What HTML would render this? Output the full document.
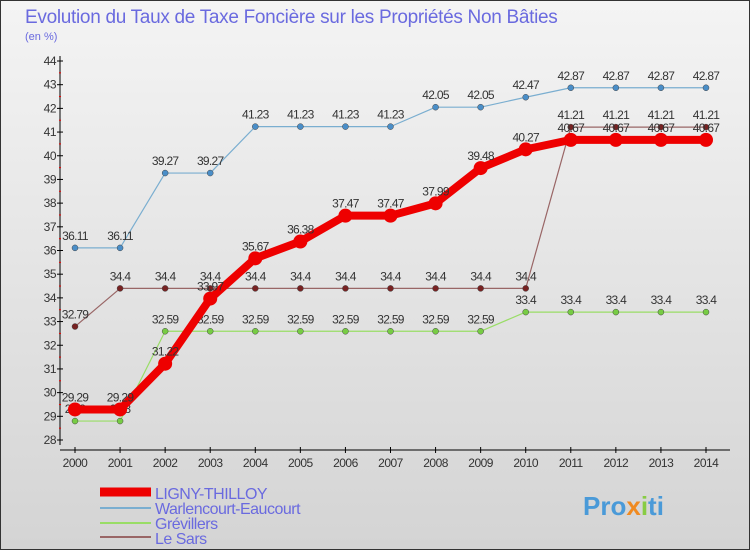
<!DOCTYPE html>
<html><head><meta charset="utf-8"><style>
body{margin:0;width:750px;height:550px;overflow:hidden;font-family:"Liberation Sans",sans-serif}
svg text{font-family:"Liberation Sans",sans-serif}
</style></head><body>
<svg id="c" width="750" height="550" viewBox="0 0 750 550">
<defs><linearGradient id="bg" x1="0" y1="0" x2="0" y2="1"><stop offset="0" stop-color="#f4f4f4"/><stop offset="1" stop-color="#d4d4d4"/></linearGradient></defs>
<rect x="0.5" y="0.5" width="749" height="549" fill="url(#bg)" stroke="#333"/>
<text x="25" y="23" font-size="19" fill="#6a6adf" letter-spacing="-0.3">Evolution du Taux de Taxe Foncière sur les Propriétés Non Bâties</text>
<text x="25" y="40" font-size="11" fill="#6a6adf">(en %)</text>
<g id="axes"></g><g id="series"></g>
<g>
<line x1="100" y1="492" x2="151" y2="492" stroke="#e00" stroke-width="9"/>
<text x="155" y="499" font-size="16" fill="#6a6adf" letter-spacing="-0.5">LIGNY-THILLOY</text>
<line x1="100" y1="508" x2="151" y2="508" stroke="#7aaed0" stroke-width="2"/>
<text x="155" y="514" font-size="16" fill="#6a6adf" letter-spacing="-0.5">Warlencourt-Eaucourt</text>
<line x1="100" y1="523" x2="151" y2="523" stroke="#99dd66" stroke-width="2"/>
<text x="155" y="529" font-size="16" fill="#6a6adf" letter-spacing="-0.5">Grévillers</text>
<line x1="100" y1="537" x2="151" y2="537" stroke="#996666" stroke-width="2"/>
<text x="155" y="544" font-size="16" fill="#6a6adf" letter-spacing="-0.5">Le Sars</text>
</g>
<text x="583" y="515" font-size="26" font-weight="bold" fill="#4a9ad8">Pro<tspan fill="#f08a20">x</tspan><tspan fill="#88cc44">i</tspan>ti</text>
</svg>
<script>
const years=[2000,2001,2002,2003,2004,2005,2006,2007,2008,2009,2010,2011,2012,2013,2014];
const yTicks=[28,29,30,31,32,33,34,35,36,37,38,39,40,41,42,43,44];
const ligny=[29.29,29.29,31.22,33.97,35.67,36.38,37.47,37.47,37.99,39.48,40.27,40.67,40.67,40.67,40.67];
const warlencourt=[36.11,36.11,39.27,39.27,41.23,41.23,41.23,41.23,42.05,42.05,42.47,42.87,42.87,42.87,42.87];
const grevillers=[28.8,28.8,32.59,32.59,32.59,32.59,32.59,32.59,32.59,32.59,33.4,33.4,33.4,33.4,33.4];
const leSars=[32.79,34.4,34.4,34.4,34.4,34.4,34.4,34.4,34.4,34.4,34.4,41.21,41.21,41.21,41.21];
const NS="http://www.w3.org/2000/svg";
const x=i=>75+i*(706-75)/(years.length-1);
const y=v=>440-(v-28)*(440-61)/16;
function mk(p,t,a){const e=document.createElementNS(NS,t);for(const k in a)e.setAttribute(k,a[k]);p.appendChild(e);return e;}
const ax=document.getElementById('axes');
let e=mk(ax,'line',{x1:60,y1:56,x2:60,y2:445,stroke:'#000'});


e=mk(ax,'line',{x1:60,y1:450,x2:730,y2:450,stroke:'#000'});


yTicks.forEach(v=>{mk(ax,'line',{x1:57,y1:y(v),x2:63,y2:y(v),stroke:'#000'});
 if(v<44)mk(ax,'line',{x1:59,y1:y(v+0.5),x2:61,y2:y(v+0.5),stroke:'#e00'});
 const t=mk(ax,'text',{x:56,y:y(v)+4,'font-size':12,fill:'#333','text-anchor':'end','letter-spacing':'-0.5'});t.textContent=v;
 
 });
years.forEach((yr,i)=>{mk(ax,'line',{x1:x(i),y1:447,x2:x(i),y2:453,stroke:'#000'});
 const t=mk(ax,'text',{x:x(i),y:467,'font-size':12,fill:'#333','text-anchor':'middle','letter-spacing':'-0.5'});t.textContent=yr;
 
 });
const sg=document.getElementById('series');
function series(d,col,w,r,name,dot){
 const g=mk(sg,'g',{});
 
 
 const pl=mk(g,'polyline',{points:d.map((v,i)=>x(i)+','+y(v)).join(' '),fill:'none',stroke:col,'stroke-width':w,'stroke-linejoin':'round'});
 
 
 d.forEach((v,i)=>{const c=mk(g,'circle',{cx:x(i),cy:y(v),r:r,fill:dot,stroke:'#444','stroke-width':r>5?0:0.5});
  
  
  const t=mk(g,'text',{x:x(i),y:y(v)-8,'font-size':12,fill:'#333','text-anchor':'middle','letter-spacing':'-0.7'});t.textContent=v;
  
  });
}
series(warlencourt,'#7aaed0',1.2,3,'warlencourt','#4a8ec8');
series(grevillers,'#99dd66',1.2,3,'grevillers','#77cc44');
series(leSars,'#996666',1.2,3,'le-sars','#772222');
series(ligny,'#e00',8,7,'ligny','#e00');
</script>
</body></html>
